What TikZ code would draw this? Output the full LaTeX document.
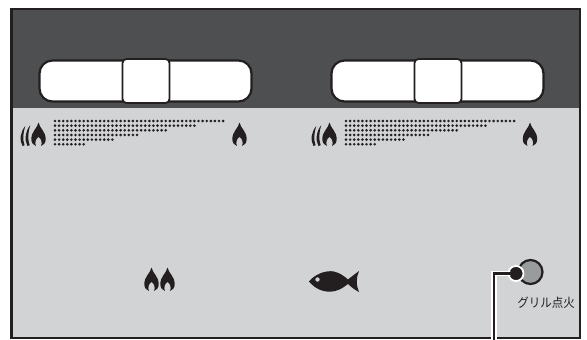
\documentclass[tikz,border=0pt]{standalone}
\usepackage{fontspec}
\newfontfamily\jpfont{Noto Sans CJK JP}
\definecolor{panelink}{HTML}{231F20}
\definecolor{paneldark}{HTML}{4D4F51}
\definecolor{panellight}{HTML}{D1D3D4}
\definecolor{lampgray}{HTML}{9A9B9D}
\tikzset{
  x=1pt,y=-1pt,
  trackbox/.style={draw=panelink,line width=2.2pt,fill=white,rounded corners=13pt,minimum width=212pt,minimum height=41pt,inner sep=0pt},
  knobbox/.style={draw=panelink,line width=1.8pt,fill=white,rounded corners=4pt,minimum width=47pt,minimum height=44pt,inner sep=0pt},
  flamefill/.style={fill=panelink,draw=none},
  flame/.pic={
    \path[flamefill] (0,-23.5) .. controls (1,-18) and (7.2,-14.5) .. (7.2,-7)
      .. controls (7.2,-3) and (5,-0.8) .. (2.6,0)
      .. controls (3.8,-3) and (3,-7.5) .. (0,-9)
      .. controls (-3,-7.5) and (-3.8,-3) .. (-2.6,0)
      .. controls (-5,-0.8) and (-7.2,-3) .. (-7.2,-7)
      .. controls (-7.2,-14.5) and (-1,-18) .. (0,-23.5) -- cycle;
  },
  hotflame/.pic={
    \path pic at (0,0) {flame};
    \path[flamefill] (-8.2,-21) .. controls (-13,-15) and (-14.5,-6) .. (-11,0)
      -- (-8.8,-0.8) .. controls (-11,-6) and (-10.5,-14) .. (-8.2,-21) -- cycle;
    \path[flamefill] (-13.2,-20) .. controls (-18.2,-14) and (-19.5,-6) .. (-16,0)
      -- (-13.9,-0.8) .. controls (-16,-6) and (-15.5,-13) .. (-13.2,-20) -- cycle;
  },
  scale marks/.pic={
    \foreach \y/\n in {0/41,4.65/34,9.3/27,13.95/20,18.6/14,23.25/7}{
      \foreach \i in {0,...,\n}{
        \fill[panelink] (\i*4.1,\y) circle (1.45);
      }
    }
  },
}
\begin{document}
\begin{tikzpicture}
\useasboundingbox (0,0) rectangle (587,340);
\fill[white] (0,0) rectangle (587,340);
\fill[panellight] (11.5,108) rectangle (580,338);
\fill[paneldark] (11.5,9) rectangle (580,108);
\draw[panelink,line width=2.2pt] (11.5,9) rectangle (580,338);

\node[trackbox] (trackL) at (145.5,81) {};
\node[knobbox] (knobL) at (146,81) {};
\node[trackbox] (trackR) at (437.5,81) {};
\node[knobbox] (knobR) at (438,81) {};

\path pic at (38.5,146) {hotflame};
\path pic at (239.5,146) {flame};
\path pic at (329.5,146) {hotflame};
\path pic at (530,146) {flame};
\path pic at (55,121) {scale marks};
\path pic at (346,121) {scale marks};

\path pic at (151.5,291) {flame};
\path pic at (167.5,291) {flame};

\fill[panelink] (309,281.5) .. controls (315,274) and (326,270) .. (334,271.5)
  .. controls (340,273) and (344,276) .. (348,279.5)
  .. controls (351,277) and (355,274) .. (359,271)
  .. controls (356,278) and (356,285) .. (359,292)
  .. controls (355,290) and (351,287) .. (348,284)
  .. controls (344,287) and (340,290) .. (335,291)
  .. controls (325,293.5) and (315,289) .. (309,281.5) -- cycle;
\fill[panellight] (317.5,279.5) circle (2.2);

\node[circle,draw=panelink,line width=2.2pt,fill=lampgray,minimum size=24pt,inner sep=0pt] (lamp) at (530.5,272) {};
\node[circle,fill=panelink,draw=white,line width=1.8pt,minimum size=15pt,inner sep=0pt] (pointer) at (516,273.5) {};
\coordinate (bend) at (494,273.5);
\coordinate (exit) at (494,340);
\draw[white,line width=5.4pt,line join=miter] (pointer.center) -- (bend) -- (exit);
\draw[panelink,line width=2.6pt,line join=miter] (pointer.center) -- (bend) -- (exit);
\node[circle,fill=panelink,minimum size=12pt,inner sep=0pt] (pointerdot) at (pointer.center) {};
\node[text=panelink,inner sep=0pt,xscale=.92,font=\jpfont\fontsize{12.5}{13}\selectfont] (label) at (546,303) {グリル点火};
\end{tikzpicture}
\end{document}
